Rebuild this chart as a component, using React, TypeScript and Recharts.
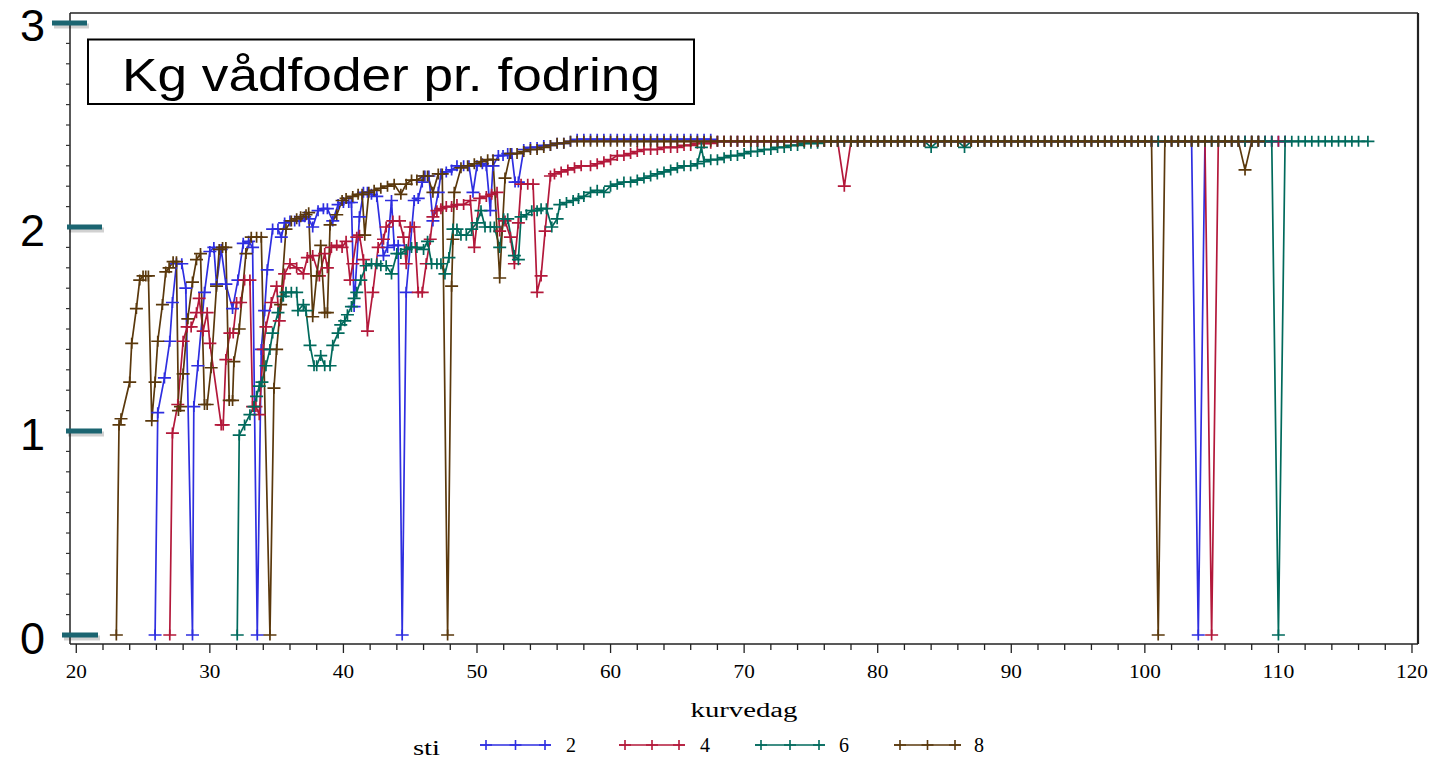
import { Line, LineChart, ReferenceLine, XAxis, YAxis } from "recharts";

type Pt = [number, number];

// sti 2 (blue)
const sti2: Pt[] = [
  [25.9, 0], [26.1, 1.09], [26.6, 1.26], [27.0, 1.44], [27.2, 1.63], [27.5, 1.82], [27.9, 1.82], [28.2, 1.7], [28.7, 0], [28.8, 1.12],
  [29.1, 1.32], [29.6, 1.68], [30.0, 1.88], [30.3, 1.9], [30.5, 1.72], [30.85, 1.89], [31.2, 1.72], [31.7, 1.6], [32.1, 1.74], [32.5, 1.92],
  [32.9, 1.93], [33.2, 1.9], [33.55, 0], [33.85, 1.4], [34.1, 1.59], [34.3, 1.79], [34.7, 1.99], [35.1, 1.99], [35.35, 1.95], [35.6, 2.02],
  [36.0, 2.03], [36.35, 2.03], [36.7, 2.03], [37.1, 2.05], [37.4, 2.04], [37.7, 2.0], [38.1, 2.08], [38.5, 2.09], [38.8, 2.09], [39.2, 2.03],
  [39.6, 2.11], [40.0, 2.12], [40.4, 2.12], [40.6, 2.12], [40.8, 1.61], [41.2, 2.05], [41.5, 2.17], [41.8, 2.17], [42.1, 2.16], [42.5, 2.15],
  [43.0, 1.86], [43.3, 1.9], [43.6, 2.13], [43.8, 1.91], [44.1, 1.91], [44.4, 0], [44.7, 1.68], [45.3, 2.13], [45.6, 2.14], [45.9, 2.22],
  [46.1, 2.25], [46.4, 2.25], [46.7, 2.03], [47.1, 2.17], [47.3, 2.26], [47.7, 2.27], [48.1, 2.28], [48.5, 2.3], [49.0, 2.3], [49.4, 2.3],
  [49.7, 2.17], [50.0, 2.3], [50.4, 2.31], [50.7, 2.3], [51.0, 2.08], [51.2, 2.3], [51.6, 2.35], [51.95, 2.35], [52.3, 2.36], [52.6, 2.36],
  [52.85, 2.22], [53.1, 2.22], [53.5, 2.38], [54.0, 2.39], [54.5, 2.39], [55.0, 2.4], [55.5, 2.4], [56.0, 2.41], [56.5, 2.41], [57, 2.42],
  [57.5, 2.43], [58, 2.43], [58.5, 2.43], [59, 2.43], [59.5, 2.43], [60, 2.43], [60.5, 2.43], [61, 2.43], [61.5, 2.43], [62, 2.43],
  [62.5, 2.43], [63, 2.43], [63.5, 2.43], [64, 2.43], [64.5, 2.43], [65, 2.43], [65.5, 2.43], [66, 2.43], [66.5, 2.43], [67, 2.43],
  [67.5, 2.43], [68, 2.42], [68.5, 2.42], [69, 2.42], [69.5, 2.42], [70, 2.42], [70.5, 2.42], [71, 2.42], [71.5, 2.42], [72, 2.42],
  [72.5, 2.42], [73, 2.42], [73.5, 2.42], [74, 2.42], [74.5, 2.42], [75, 2.42], [75.5, 2.42], [76, 2.42], [76.5, 2.42], [77, 2.42],
  [77.5, 2.42], [78, 2.42], [78.5, 2.42], [79, 2.42], [79.5, 2.42], [80, 2.42], [80.5, 2.42], [81, 2.42], [81.5, 2.42], [82, 2.42],
  [82.5, 2.42], [83, 2.42], [83.5, 2.42], [84, 2.42], [84.5, 2.42], [85, 2.42], [85.5, 2.42], [86, 2.42], [86.5, 2.42], [87, 2.42],
  [87.5, 2.42], [88, 2.42], [88.5, 2.42], [89, 2.42], [89.5, 2.42], [90, 2.42], [90.5, 2.42], [91, 2.42], [91.5, 2.42], [92, 2.42],
  [92.5, 2.42], [93, 2.42], [93.5, 2.42], [94, 2.42], [94.5, 2.42], [95, 2.42], [95.5, 2.42], [96, 2.42], [96.5, 2.42], [97, 2.42],
  [97.5, 2.42], [98, 2.42], [98.5, 2.42], [99, 2.42], [99.5, 2.42], [100, 2.42], [100.5, 2.42], [101, 2.42], [101.5, 2.42], [102, 2.42],
  [102.5, 2.42], [103, 2.42], [103.5, 2.42], [104, 0], [104.5, 2.42], [105, 2.42], [105.5, 2.42], [106, 2.42], [106.5, 2.42], [107, 2.42],
  [107.5, 2.42], [108, 2.42], [108.5, 2.42], [109, 2.42], [109.5, 2.42], [110, 2.42], [110.5, 2.42],
];

// sti 4 (red)
const sti4: Pt[] = [
  [27.0, 0], [27.2, 0.99], [27.6, 1.13], [28.0, 1.44], [28.3, 1.51], [28.6, 1.51], [29.0, 1.58], [29.2, 1.65], [29.5, 1.49], [29.8, 1.58],
  [30.0, 1.43], [30.85, 1.03], [31.0, 1.03], [31.2, 1.35], [31.5, 1.48], [31.75, 1.48], [32.0, 1.63], [32.3, 1.63], [32.6, 1.74], [33.0, 1.74],
  [33.2, 1.12], [33.45, 1.12], [33.7, 1.08], [34.0, 1.4], [34.2, 1.51], [34.6, 1.63], [35.0, 1.71], [35.2, 1.54], [35.6, 1.77], [36.0, 1.82],
  [36.5, 1.8], [37.0, 1.77], [37.3, 1.85], [37.7, 1.86], [38.2, 1.76], [38.6, 1.87], [38.8, 1.8], [39.1, 1.9], [39.5, 1.91], [39.9, 1.9],
  [40.2, 1.93], [40.5, 1.74], [40.7, 1.82], [41.0, 1.95], [41.2, 1.96], [41.5, 1.84], [41.8, 1.49], [42.2, 1.68], [42.6, 1.9], [43.0, 1.94],
  [43.2, 2.0], [43.7, 2.03], [44.2, 2.03], [44.5, 1.95], [44.7, 1.82], [45.0, 2.0], [45.3, 2.0], [45.6, 1.68], [45.9, 1.68], [46.2, 1.82],
  [46.5, 1.94], [46.7, 2.05], [47.0, 2.08], [47.3, 2.09], [47.7, 2.1], [48.1, 2.1], [48.5, 2.11], [49.0, 2.11], [49.5, 2.13], [49.8, 1.9],
  [50.2, 2.14], [50.7, 2.15], [51.1, 2.16], [51.5, 2.17], [51.7, 1.98], [52.1, 2.03], [52.5, 1.95], [52.8, 1.82], [53.1, 2.02], [53.3, 2.21],
  [53.8, 2.21], [54.2, 2.21], [54.5, 1.68], [54.8, 1.76], [55.1, 1.98], [55.5, 2.25], [55.8, 2.26], [56.3, 2.27], [56.8, 2.28], [57.3, 2.29],
  [57.8, 2.3], [58.5, 2.3], [59.0, 2.31], [59.5, 2.32], [60.0, 2.33], [60.5, 2.35], [61.0, 2.35], [61.5, 2.36], [62.0, 2.37], [62.5, 2.38],
  [63.0, 2.38], [63.5, 2.38], [64.0, 2.39], [64.5, 2.39], [65.0, 2.39], [65.5, 2.4], [66.0, 2.4], [66.5, 2.41], [67.0, 2.41], [67.5, 2.41],
  [68, 2.42], [68.5, 2.42], [69, 2.42], [69.5, 2.42], [70, 2.42], [70.5, 2.42], [71, 2.42], [71.5, 2.42], [72, 2.42], [72.5, 2.42],
  [73, 2.42], [73.5, 2.42], [74, 2.42], [74.5, 2.42], [75, 2.42], [75.5, 2.42], [76, 2.42], [76.5, 2.42], [77, 2.42], [77.5, 2.2],
  [78, 2.42], [78.5, 2.42], [79, 2.42], [79.5, 2.42], [80, 2.42], [80.5, 2.42], [81, 2.42], [81.5, 2.42], [82, 2.42], [82.5, 2.42],
  [83, 2.42], [83.5, 2.42], [84, 2.42], [84.5, 2.42], [85, 2.42], [85.5, 2.42], [86, 2.42], [86.5, 2.42], [87, 2.42], [87.5, 2.42],
  [88, 2.42], [88.5, 2.42], [89, 2.42], [89.5, 2.42], [90, 2.42], [90.5, 2.42], [91, 2.42], [91.5, 2.42], [92, 2.42], [92.5, 2.42],
  [93, 2.42], [93.5, 2.42], [94, 2.42], [94.5, 2.42], [95, 2.42], [95.5, 2.42], [96, 2.42], [96.5, 2.42], [97, 2.42], [97.5, 2.42],
  [98, 2.42], [98.5, 2.42], [99, 2.42], [99.5, 2.42], [100, 2.42], [100.5, 2.42], [101, 2.42], [101.5, 2.42], [102, 2.42], [102.5, 2.42],
  [103, 2.42], [103.5, 2.42], [104, 2.42], [104.5, 2.42], [105, 0], [105.5, 2.42], [106, 2.42], [106.5, 2.42], [107, 2.42], [107.5, 2.42],
  [108, 2.42], [108.5, 2.42], [109, 2.42], [109.5, 2.42], [110, 2.42], [110.5, 2.42],
];

// sti 6 (teal)
const sti6: Pt[] = [
  [32.05, 0], [32.2, 0.98], [32.6, 1.03], [33.0, 1.08], [33.3, 1.12], [33.5, 1.17], [33.7, 1.22], [33.9, 1.24], [34.2, 1.32], [34.5, 1.4],
  [34.7, 1.48], [35.1, 1.58], [35.5, 1.66], [35.7, 1.68], [36.1, 1.68], [36.5, 1.68], [36.6, 1.59], [37.0, 1.62], [37.2, 1.59], [37.5, 1.42],
  [37.8, 1.32], [38.0, 1.32], [38.3, 1.37], [38.6, 1.32], [39.0, 1.32], [39.2, 1.42], [39.6, 1.48], [39.8, 1.52], [40.1, 1.54], [40.3, 1.57],
  [40.6, 1.61], [40.8, 1.65], [41.0, 1.68], [41.3, 1.74], [41.7, 1.81], [42.1, 1.82], [42.5, 1.82], [42.8, 1.81], [43.2, 1.81], [43.6, 1.77],
  [44.0, 1.87], [44.3, 1.87], [44.7, 1.89], [45.1, 1.9], [45.5, 1.9], [46.0, 1.89], [46.3, 1.93], [46.6, 1.82], [47.0, 1.82], [47.3, 1.82],
  [47.6, 1.77], [47.9, 1.85], [48.2, 1.99], [48.5, 1.99], [48.8, 1.96], [49.2, 1.96], [49.6, 1.99], [50.0, 2.02], [50.3, 2.08], [50.6, 2.0],
  [51.0, 2.0], [51.3, 2.0], [51.7, 1.9], [52.0, 2.04], [52.3, 2.04], [52.8, 1.86], [53.1, 1.84], [53.3, 2.05], [53.7, 2.06], [54.1, 2.08],
  [54.5, 2.08], [54.8, 2.09], [55.2, 2.09], [55.6, 2.0], [56.0, 2.04], [56.2, 2.11], [56.7, 2.12], [57.2, 2.13], [57.6, 2.14], [58.0, 2.15],
  [58.5, 2.17], [59.0, 2.18], [59.5, 2.17], [60.0, 2.2], [60.5, 2.21], [61.0, 2.22], [61.5, 2.22], [62.0, 2.23], [62.5, 2.24], [63.0, 2.25],
  [63.5, 2.26], [64.0, 2.27], [64.5, 2.28], [65.0, 2.29], [65.5, 2.3], [66.0, 2.3], [66.5, 2.31], [66.8, 2.39], [67.0, 2.32], [67.5, 2.33],
  [68.0, 2.33], [68.5, 2.34], [69.0, 2.35], [69.5, 2.35], [70.0, 2.36], [70.5, 2.37], [71.0, 2.37], [71.5, 2.38], [72.0, 2.38], [72.5, 2.39],
  [73.0, 2.39], [73.5, 2.4], [74.0, 2.4], [74.5, 2.41], [75.0, 2.41], [75.5, 2.41], [76, 2.42], [76.5, 2.42], [77, 2.42], [77.5, 2.42],
  [78, 2.42], [78.5, 2.42], [79, 2.42], [79.5, 2.42], [80, 2.42], [80.5, 2.42], [81, 2.42], [81.5, 2.42], [82, 2.42], [82.5, 2.42],
  [83, 2.42], [83.5, 2.42], [84, 2.39], [84.5, 2.42], [85, 2.42], [85.5, 2.42], [86, 2.42], [86.5, 2.39], [87, 2.42], [87.5, 2.42],
  [88, 2.42], [88.5, 2.42], [89, 2.42], [89.5, 2.42], [90, 2.42], [90.5, 2.42], [91, 2.42], [91.5, 2.42], [92, 2.42], [92.5, 2.42],
  [93, 2.42], [93.5, 2.42], [94, 2.42], [94.5, 2.42], [95, 2.42], [95.5, 2.42], [96, 2.42], [96.5, 2.42], [97, 2.42], [97.5, 2.42],
  [98, 2.42], [98.5, 2.42], [99, 2.42], [99.5, 2.42], [100, 2.42], [100.5, 2.42], [101, 2.42], [101.5, 2.42], [102, 2.42], [102.5, 2.42],
  [103, 2.42], [103.5, 2.42], [104, 2.42], [104.5, 2.42], [105, 2.42], [105.5, 2.42], [106, 2.42], [106.5, 2.42], [107, 2.42], [107.5, 2.42],
  [108, 2.42], [108.5, 2.42], [109, 2.42], [109.5, 2.42], [110, 0], [110.5, 2.42], [111, 2.42], [111.5, 2.42], [112, 2.42], [112.5, 2.42],
  [113, 2.42], [113.5, 2.42], [114, 2.42], [114.5, 2.42], [115, 2.42], [115.5, 2.42], [116, 2.42], [116.7, 2.42],
];

// sti 8 (brown)
const sti8: Pt[] = [
  [23.0, 0], [23.2, 1.03], [23.35, 1.06], [24.0, 1.24], [24.15, 1.43], [24.5, 1.6], [24.75, 1.74], [25.0, 1.76], [25.2, 1.76], [25.4, 1.76],
  [25.65, 1.05], [25.9, 1.24], [26.1, 1.44], [26.45, 1.62], [26.7, 1.78], [26.95, 1.8], [27.25, 1.83], [27.5, 1.83], [27.65, 1.1], [27.8, 1.12],
  [28.0, 1.28], [28.35, 1.55], [28.7, 1.73], [29.0, 1.84], [29.3, 1.87], [29.6, 1.13], [29.8, 1.13], [30.1, 1.31], [30.5, 1.71], [30.7, 1.89],
  [30.95, 1.9], [31.2, 1.9], [31.45, 1.15], [31.7, 1.15], [31.8, 1.34], [32.2, 1.5], [32.7, 1.87], [33.1, 1.95], [33.5, 1.95], [33.85, 1.95],
  [34.5, 0], [34.8, 1.21], [35.0, 1.4], [35.3, 1.62], [35.7, 1.99], [36.1, 2.03], [36.5, 2.04], [36.8, 2.05], [37.2, 2.06], [37.4, 2.07],
  [37.7, 1.56], [38.0, 1.76], [38.3, 1.91], [38.6, 1.58], [38.8, 1.58], [39.0, 2.01], [39.5, 2.06], [39.9, 2.13], [40.2, 2.14], [40.7, 2.15],
  [41.1, 2.16], [41.4, 2.16], [41.6, 1.96], [41.9, 2.17], [42.3, 2.18], [42.8, 2.19], [43.3, 2.2], [43.8, 2.21], [44.3, 2.16], [44.7, 2.21],
  [45.1, 2.23], [45.5, 2.23], [46.0, 2.25], [46.3, 2.25], [46.7, 2.17], [47.1, 2.26], [47.4, 2.26], [47.8, 0], [48.1, 1.71], [48.2, 1.94],
  [48.3, 2.17], [48.8, 2.29], [49.3, 2.3], [49.8, 2.31], [50.3, 2.32], [50.8, 2.33], [51.2, 2.33], [51.7, 1.75], [52.1, 2.24], [52.5, 2.36],
  [53.0, 2.36], [53.5, 2.37], [54.0, 2.38], [54.5, 2.38], [55.0, 2.39], [55.5, 2.4], [56.0, 2.41], [56.5, 2.41], [57, 2.42], [57.5, 2.42],
  [58, 2.42], [58.5, 2.42], [59, 2.42], [59.5, 2.42], [60, 2.42], [60.5, 2.42], [61, 2.42], [61.5, 2.42], [62, 2.42], [62.5, 2.42],
  [63, 2.42], [63.5, 2.42], [64, 2.42], [64.5, 2.42], [65, 2.42], [65.5, 2.42], [66, 2.42], [66.5, 2.42], [67, 2.42], [67.5, 2.42],
  [68, 2.42], [68.5, 2.42], [69, 2.42], [69.5, 2.42], [70, 2.42], [70.5, 2.42], [71, 2.42], [71.5, 2.42], [72, 2.42], [72.5, 2.42],
  [73, 2.42], [73.5, 2.42], [74, 2.42], [74.5, 2.42], [75, 2.42], [75.5, 2.42], [76, 2.42], [76.5, 2.42], [77, 2.42], [77.5, 2.42],
  [78, 2.42], [78.5, 2.42], [79, 2.42], [79.5, 2.42], [80, 2.42], [80.5, 2.42], [81, 2.42], [81.5, 2.42], [82, 2.42], [82.5, 2.42],
  [83, 2.42], [83.5, 2.42], [84, 2.42], [84.5, 2.42], [85, 2.42], [85.5, 2.42], [86, 2.42], [86.5, 2.42], [87, 2.42], [87.5, 2.42],
  [88, 2.42], [88.5, 2.42], [89, 2.42], [89.5, 2.42], [90, 2.42], [90.5, 2.42], [91, 2.42], [91.5, 2.42], [92, 2.42], [92.5, 2.42],
  [93, 2.42], [93.5, 2.42], [94, 2.42], [94.5, 2.42], [95, 2.42], [95.5, 2.42], [96, 2.42], [96.5, 2.42], [97, 2.42], [97.5, 2.42],
  [98, 2.42], [98.5, 2.42], [99, 2.42], [99.5, 2.42], [100, 2.42], [100.5, 2.42], [101, 0], [101.5, 2.42], [102, 2.42], [102.5, 2.42],
  [103, 2.42], [103.5, 2.42], [104, 2.42], [104.5, 2.42], [105, 2.42], [105.5, 2.42], [106, 2.42], [106.5, 2.42], [107, 2.42], [107.5, 2.28],
  [108, 2.42], [108.5, 2.42],
];

const series = [
  { name: "2", color: "#2E2EE0", points: sti2 },
  { name: "4", color: "#B3183A", points: sti4 },
  { name: "6", color: "#006A5C", points: sti6 },
  { name: "8", color: "#5A380C", points: sti8 },
];

const xTicks = [
  20, 22, 24, 26, 28, 30, 32, 34, 36, 38, 40, 42, 44, 46, 48, 50, 52, 54, 56, 58, 60, 62, 64, 66, 68, 70,
  72, 74, 76, 78, 80, 82, 84, 86, 88, 90, 92, 94, 96, 98, 100, 102, 104, 106, 108, 110, 112, 114, 116, 118, 120,
];
const yTicks = [
  0, 0.1, 0.2, 0.3, 0.4, 0.5, 0.6, 0.7, 0.8, 0.9, 1, 1.1, 1.2, 1.3, 1.4, 1.5, 1.6, 1.7, 1.8, 1.9, 2,
  2.1, 2.2, 2.3, 2.4, 2.5, 2.6, 2.7, 2.8, 2.9, 3,
];

const X_DOMAIN: [number, number] = [19.53, 120.45];
const Y_DOMAIN: [number, number] = [-0.044, 3.049];

// the big teal tick marks sit a bit off the axis, each one differently
const BAR_SPAN: Record<number, [number, number]> = { 0: [-8, 28], 1: [-4, 32], 2: [-3, 32], 3: [-18, 17] };

function KgTick(props: any) {
  const { x, y, payload } = props;
  const v = payload.value as number;
  if (Number.isInteger(v)) {
    const [a, b] = BAR_SPAN[v];
    return (
      <g>
        <line x1={x + a + 2} x2={x + b + 2} y1={y + 3} y2={y + 3} stroke="rgba(0,0,0,0.18)" strokeWidth={5} />
        <line x1={x + a} x2={x + b} y1={y} y2={y} stroke="#1B6571" strokeWidth={5} />
        <text x={x - 25} y={y + 18.5} textAnchor="end" fontFamily="Liberation Sans, Arial" fontSize={45} fill="#000">
          {v}
        </text>
      </g>
    );
  }
  return <line x1={x - 4} x2={x} y1={y} y2={y} stroke="#333" strokeWidth={1.2} />;
}

function DayTick(props: any) {
  const { x, y, payload } = props;
  const v = payload.value as number;
  const major = v % 10 === 0;
  const label = String(v);
  return (
    <g>
      <line x1={x} x2={x} y1={y} y2={y + (major ? 9 : 6)} stroke="#222" strokeWidth={1.3} />
      {major ? (
        <text
          x={x}
          y={y + 34}
          textAnchor="middle"
          fontFamily="Liberation Serif, Times New Roman"
          fontSize={18}
          textLength={label.length * 10.6}
          lengthAdjust="spacingAndGlyphs"
          fill="#000"
        >
          {label}
        </text>
      ) : null}
    </g>
  );
}

const plusDot = (color: string) => (props: any) => {
  const { cx, cy, index } = props;
  if (cx == null || cy == null) return <g key={index} />;
  return (
    <path
      key={index}
      d={`M${cx - 6.5},${cy}H${cx + 6.5}M${cx},${cy - 5.5}V${cy + 5.5}`}
      stroke={color}
      strokeWidth={1.7}
      fill="none"
    />
  );
};

const LEGEND_POS = [
  { x0: 480, x1: 551, tx: 566 },
  { x0: 619, x1: 685, tx: 700 },
  { x0: 755, x1: 825, tx: 839 },
  { x0: 894, x1: 961, tx: 974 },
];

export default function App() {
  return (
    <div style={{ position: "absolute", left: 0, top: 0, width: 1434, height: 759, background: "#fff" }}>
      <LineChart width={1434} height={759} margin={{ top: 13, right: 16, bottom: 35, left: 0 }}>
        <XAxis
          type="number"
          dataKey="day"
          domain={X_DOMAIN}
          allowDataOverflow
          ticks={xTicks}
          interval={0}
          tick={<DayTick />}
          tickLine={false}
          tickSize={0}
          tickMargin={0}
          height={80}
          axisLine={{ stroke: "#222", strokeWidth: 1.5 }}
        />
        <YAxis
          type="number"
          domain={Y_DOMAIN}
          allowDataOverflow
          ticks={yTicks}
          interval={0}
          tick={<KgTick />}
          tickLine={false}
          tickSize={0}
          tickMargin={0}
          width={70}
          axisLine={{ stroke: "#222", strokeWidth: 1.5 }}
        />
        <ReferenceLine y={Y_DOMAIN[1]} stroke="#222" strokeWidth={1.5} />
        <ReferenceLine x={X_DOMAIN[1]} stroke="#222" strokeWidth={2.2} />
        {series.map((s) => (
          <Line
            key={s.name}
            data={s.points.map(([day, kg]) => ({ day, kg }))}
            dataKey="kg"
            name={s.name}
            type="linear"
            stroke={s.color}
            strokeWidth={1.7}
            dot={plusDot(s.color)}
            activeDot={false}
            isAnimationActive={false}
          />
        ))}
      </LineChart>
      <svg
        width={1434}
        height={759}
        style={{ position: "absolute", left: 0, top: 0, pointerEvents: "none" }}
      >
        <rect x={88} y={39.5} width={606} height={64.5} fill="#fff" stroke="#000" strokeWidth={2} />
        <text
          x={122}
          y={91}
          fontFamily="Liberation Sans, Arial"
          fontSize={46}
          textLength={538}
          lengthAdjust="spacingAndGlyphs"
          fill="#000"
        >
          Kg vådfoder pr. fodring
        </text>
        <text
          x={744}
          y={717}
          textAnchor="middle"
          fontFamily="Liberation Serif, Times New Roman"
          fontSize={20}
          textLength={107}
          lengthAdjust="spacingAndGlyphs"
          fill="#000"
        >
          kurvedag
        </text>
        <text
          x={413}
          y={755}
          fontFamily="Liberation Serif, Times New Roman"
          fontSize={20}
          textLength={27}
          lengthAdjust="spacingAndGlyphs"
          fill="#000"
        >
          sti
        </text>
        {series.map((s, i) => {
          const p = LEGEND_POS[i];
          const marks = [p.x0 + 6, (p.x0 + p.x1) / 2, p.x1 - 6];
          return (
            <g key={s.name}>
              <line x1={p.x0} x2={p.x1} y1={745} y2={745} stroke={s.color} strokeWidth={1.7} />
              {marks.map((mx) => (
                <path key={mx} d={`M${mx - 6},745H${mx + 6}M${mx},740V750`} stroke={s.color} strokeWidth={1.6} />
              ))}
              <text x={p.tx} y={752} fontFamily="Liberation Serif, Times New Roman" fontSize={20} fill="#000">
                {s.name}
              </text>
            </g>
          );
        })}
      </svg>
    </div>
  );
}
